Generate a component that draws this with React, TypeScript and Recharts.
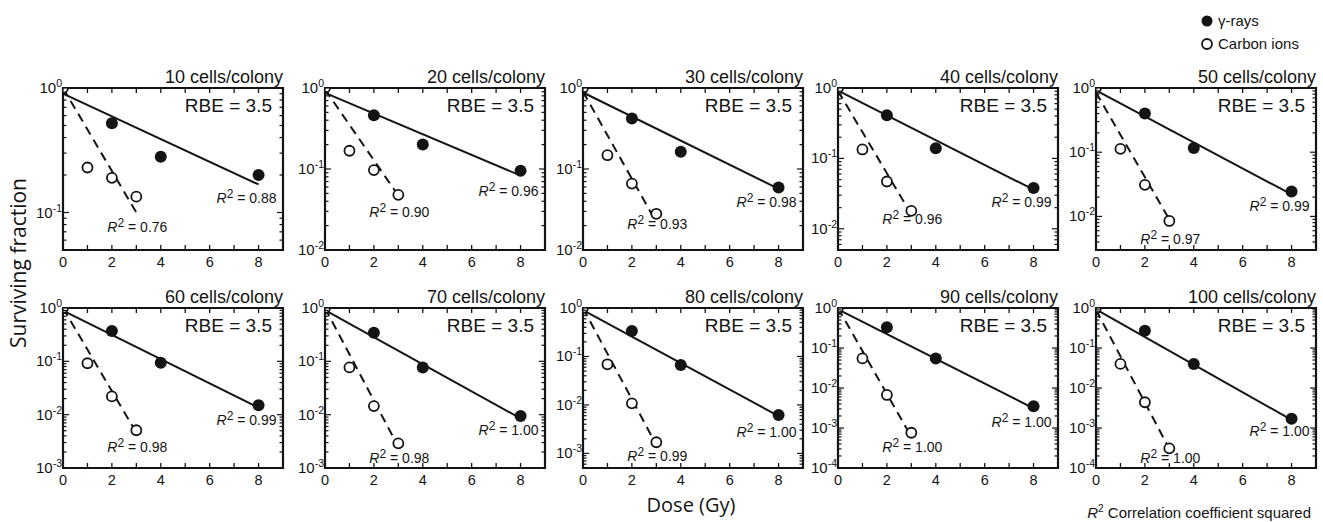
import React from 'react';
import { ComposedChart, XAxis, YAxis, Scatter, ReferenceLine, ReferenceArea, ReferenceDot } from 'recharts';

// colony-size panels
const colonySizes = [10, 20, 30, 40, 50, 60, 70, 80, 90, 100];
const gammaDoses = [2, 4, 8];
const carbonDoses = [0, 1, 2, 3];

const gammaSF = [
  [0.52, 0.28, 0.2],
  [0.46, 0.2, 0.095],
  [0.42, 0.163, 0.059],
  [0.41, 0.139, 0.038],
  [0.4, 0.116, 0.0245],
  [0.37, 0.094, 0.015],
  [0.345, 0.077, 0.0094],
  [0.335, 0.067, 0.0062],
  [0.33, 0.055, 0.0035],
  [0.27, 0.04, 0.0017],
];

const carbonSF = [
  [1, 0.23, 0.19, 0.134],
  [1, 0.168, 0.097, 0.048],
  [1, 0.148, 0.066, 0.028],
  [1, 0.134, 0.047, 0.018],
  [1, 0.113, 0.031, 0.0085],
  [1, 0.092, 0.022, 0.0051],
  [1, 0.077, 0.0145, 0.0029],
  [1, 0.069, 0.0108, 0.0017],
  [1, 0.055, 0.0067, 0.00076],
  [1, 0.04, 0.0044, 0.00031],
];

// fitted lines: SF at 0 Gy and at the last dose (8 Gy gamma, 3 Gy carbon)
const gammaFit = [
  [0.9, 0.168], [0.87, 0.083], [0.88, 0.057], [0.92, 0.036], [0.92, 0.022],
  [0.89, 0.0135], [0.91, 0.0085], [0.9, 0.0059], [0.92, 0.0031], [0.93, 0.0016],
];
const carbonFit = [
  [1.0, 0.1], [0.96, 0.047], [0.9, 0.022], [0.91, 0.016], [0.85, 0.009],
  [1.0, 0.0046], [1.0, 0.0025], [1.0, 0.0015], [1.0, 0.0006], [0.9, 0.0003],
];

const gammaR2 = ['0.88', '0.96', '0.98', '0.99', '0.99', '0.99', '1.00', '1.00', '1.00', '1.00'];
const carbonR2 = ['0.76', '0.90', '0.93', '0.96', '0.97', '0.98', '0.98', '0.99', '1.00', '1.00'];
const rbeValues = [3.5, 3.5, 3.5, 3.5, 3.5, 3.5, 3.5, 3.5, 3.5, 3.5];
const yMins = [0.05, 0.01, 0.01, 0.005, 0.003, 0.001, 0.001, 0.0005, 0.0001, 0.0001];
const xTicks = [0, 1, 2, 3, 4, 5, 6, 7, 8, 9];

// layout
const FONT = '"Liberation Sans", Arial, Helvetica, sans-serif';
const TITLE_FONT = '"Open Sans", "Noto Sans", sans-serif';
const INK = '#141414';
const COL_LEFT = [63, 325, 583, 838, 1096];
const ROW_TOP = [88, 308];
const ROW_H = [162, 160];
const BOX_W = 220;
const AXIS_W = 40;
const TOP_M = 30;
const RIGHT_M = 10;
const AXIS_H = 24;
const GAMMA_LABEL_DY = [28, 25, 19, 19, 20, 20, 19, 22, 21, 17];
const CARBON_LABEL_DY = [35, 22, 15, 13, 23, 22, 20, 19, 19, 15];

function logTicks(min: number) {
  const out: number[] = [];
  const lo = Math.floor(Math.log10(min) + 1e-9);
  for (let d = lo; d < 0; d++) {
    for (let k = 1; k <= 9; k++) {
      const v = Number((k * Math.pow(10, d)).toPrecision(6));
      if (v >= min - 1e-12) out.push(v);
    }
  }
  out.push(1);
  return out;
}

function XTick({ x, y, payload, h }: any) {
  const v = payload.value;
  return (
    <g>
      <line x1={x} x2={x} y1={y} y2={y - 5} stroke={INK} strokeWidth={1.3} />
      <line x1={x} x2={x} y1={y - h} y2={y - h + 5} stroke={INK} strokeWidth={1.3} />
      {v % 2 === 0 && (
        <text x={x} y={y + 17} textAnchor="middle" fontSize={14.5} fontFamily={FONT} fill={INK}>
          {v}
        </text>
      )}
    </g>
  );
}

function YTick({ x, y, payload, w }: any) {
  const v = payload.value;
  const lg = Math.log10(v);
  const e = Math.round(lg);
  const major = Math.abs(lg - e) < 1e-6;
  const len = major ? 6 : 3.5;
  return (
    <g>
      <line x1={x} x2={x + len} y1={y} y2={y} stroke={INK} strokeWidth={1.2} />
      <line x1={x + w} x2={x + w - len} y1={y} y2={y} stroke={INK} strokeWidth={1.2} />
      {major && (
        <text x={x - 1} y={y + 5} textAnchor="end" fontSize={15} fontFamily={FONT} fill={INK}>
          10<tspan dy={-6} fontSize={10.5}>{e}</tspan>
        </text>
      )}
    </g>
  );
}

function R2Text({ x, y, anchor, value }: any) {
  return (
    <text x={x} y={y} textAnchor={anchor} fontSize={14} fontFamily={FONT} fill={INK}>
      <tspan fontStyle="italic">R</tspan>
      <tspan dy={-5} fontSize={12}>2</tspan>
      <tspan dy={5}>{` = ${value}`}</tspan>
    </text>
  );
}

function Panel({ i }: { i: number }) {
  const row = Math.floor(i / 5);
  const col = i % 5;
  const H = ROW_H[row];
  const yMin = yMins[i];
  const yTicks = logTicks(yMin);
  const gamma = gammaDoses.map((d, k) => ({ dose: d, sf: gammaSF[i][k] }));
  const carbon = carbonDoses.map((d, k) => ({ dose: d, sf: carbonSF[i][k] }));

  return (
    <div style={{ position: 'absolute', left: COL_LEFT[col] - AXIS_W, top: ROW_TOP[row] - TOP_M }}>
      <ComposedChart
        width={BOX_W + AXIS_W + RIGHT_M}
        height={H + TOP_M + AXIS_H}
        margin={{ top: TOP_M, right: RIGHT_M, bottom: 0, left: 0 }}
      >
        <XAxis
          dataKey="dose"
          type="number"
          domain={[0, 9]}
          ticks={xTicks}
          interval={0}
          allowDataOverflow
          tickSize={0}
          tickMargin={0}
          axisLine={false}
          tickLine={false}
          height={AXIS_H}
          tick={(p: any) => <XTick x={p.x} y={p.y} payload={p.payload} h={H} />}
        />
        <YAxis
          dataKey="sf"
          type="number"
          scale="log"
          domain={[yMin, 1]}
          ticks={yTicks}
          interval={0}
          allowDataOverflow
          tickSize={0}
          tickMargin={0}
          axisLine={false}
          tickLine={false}
          width={AXIS_W}
          tick={(p: any) => <YTick x={p.x} y={p.y} payload={p.payload} w={BOX_W} />}
        />
        <ReferenceArea x1={0} x2={9} y1={yMin} y2={1} fill="none" stroke={INK} strokeWidth={2.2} ifOverflow="visible" />
        <ReferenceLine
          segment={[{ x: 0, y: gammaFit[i][0] }, { x: 8, y: gammaFit[i][1] }]}
          stroke={INK}
          strokeWidth={2}
          ifOverflow="visible"
        />
        <ReferenceLine
          segment={[{ x: 0, y: carbonFit[i][0] }, { x: 3, y: carbonFit[i][1] }]}
          stroke={INK}
          strokeWidth={2}
          strokeDasharray="9 6"
          ifOverflow="visible"
        />
        <Scatter
          data={gamma}
          isAnimationActive={false}
          shape={(p: any) => <circle cx={p.cx} cy={p.cy} r={6} fill={INK} />}
        />
        <Scatter
          data={carbon}
          isAnimationActive={false}
          shape={(p: any) => <circle cx={p.cx} cy={p.cy} r={5} fill="#fff" stroke={INK} strokeWidth={1.8} />}
        />
        <ReferenceDot
          x={8}
          y={gammaSF[i][2]}
          r={0}
          ifOverflow="visible"
          shape={(p: any) => <R2Text x={p.cx + 18} y={p.cy + GAMMA_LABEL_DY[i]} anchor="end" value={gammaR2[i]} />}
        />
        <ReferenceDot
          x={3}
          y={carbonSF[i][3]}
          r={0}
          ifOverflow="visible"
          shape={(p: any) => <R2Text x={p.cx - 29} y={p.cy + CARBON_LABEL_DY[i]} anchor="start" value={carbonR2[i]} />}
        />
      </ComposedChart>
    </div>
  );
}

export default function App() {
  return (
    <div style={{ position: 'absolute', left: 0, top: 0, width: 1323, height: 522, background: '#fff', overflow: 'hidden' }}>
      {colonySizes.map((_, i) => (
        <Panel key={i} i={i} />
      ))}
      <svg width={1323} height={522} style={{ position: 'absolute', left: 0, top: 0, pointerEvents: 'none' }}>
        {colonySizes.map((n, i) => {
          const row = Math.floor(i / 5);
          const col = i % 5;
          const right = COL_LEFT[col] + BOX_W;
          return (
            <g key={i}>
              <text x={right} y={ROW_TOP[row] - 5} textAnchor="end" fontSize={18} fontFamily={FONT} fill={INK}>
                {`${n} cells/colony`}
              </text>
              <text x={right - 11} y={ROW_TOP[row] + 24} textAnchor="end" fontSize={19} fontFamily={FONT} fill={INK}>
                {`RBE = ${rbeValues[i]}`}
              </text>
            </g>
          );
        })}
        <text
          x={26}
          y={263}
          transform="rotate(-90 26 263)"
          textAnchor="middle"
          fontSize={21}
          fontFamily={TITLE_FONT}
          fill={INK}
        >
          Surviving fraction
        </text>
        <text x={691} y={512} textAnchor="middle" fontSize={20} fontFamily={TITLE_FONT} fill={INK}>
          Dose (Gy)
        </text>
        <circle cx={1207} cy={21} r={5.5} fill={INK} />
        <text x={1218} y={26} fontSize={15} fontFamily={FONT} fill={INK}>γ-rays</text>
        <circle cx={1207} cy={44} r={5} fill="#fff" stroke={INK} strokeWidth={1.8} />
        <text x={1218} y={49} fontSize={15} fontFamily={FONT} fill={INK}>Carbon ions</text>
        <text x={1311} y={518} textAnchor="end" fontSize={15} fontFamily={FONT} fill={INK}>
          <tspan fontStyle="italic">R</tspan>
          <tspan dy={-6} fontSize={10}>2</tspan>
          <tspan dy={6}> Correlation coefficient squared</tspan>
        </text>
      </svg>
    </div>
  );
}
